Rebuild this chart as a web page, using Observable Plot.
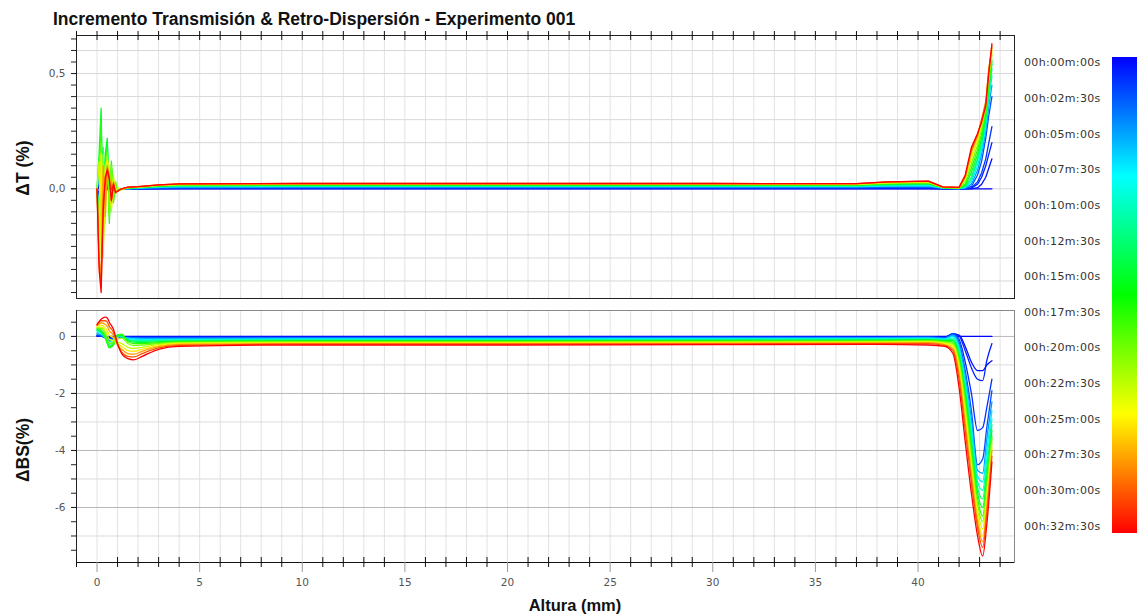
<!DOCTYPE html>
<html><head><meta charset="utf-8">
<script src="https://cdn.jsdelivr.net/npm/d3@7"></script>
<script src="https://cdn.jsdelivr.net/npm/@observablehq/plot@0.6"></script>
<style>
body{margin:0;background:#fff;font-family:"Liberation Sans",Arial,sans-serif;}
#wrap{position:relative;width:1141px;height:615px;overflow:hidden;background:#fff;}
.abs{position:absolute;white-space:nowrap;}
.title{font-weight:bold;font-size:17.5px;line-height:1.2;color:#111;}
.ylab{font-weight:bold;font-size:17.5px;color:#111;transform:translate(-50%,-50%) rotate(-90deg);line-height:1;}
.xlab{font-weight:bold;font-size:16.5px;color:#111;transform:translateX(-50%);line-height:1.15;}
.leg{font-family:"DejaVu Sans",sans-serif;font-size:11px;letter-spacing:0.35px;color:#333;transform:translateY(-50%);}
</style></head><body><div id="wrap"></div><script>
// ---------- data ----------
// legend labels
const times = ["00h:00m:00s","00h:02m:30s","00h:05m:00s","00h:07m:30s","00h:10m:00s","00h:12m:30s","00h:15m:00s","00h:17m:30s","00h:20m:00s","00h:22m:30s","00h:25m:00s","00h:27m:30s","00h:30m:00s","00h:32m:30s"];
// scan times (minutes) of the drawn profiles
const scanMinutes = [0,0.5,1,1.5,2.5,5,7.5,10,12.5,15,17.5,20,22.5,25,27.5,30,32.5];

// Transmission increment (%) : height knots (mm)
const xT = [0,0.1,0.2,0.3,0.4,0.5,0.6,0.7,0.8,0.9,1.0,1.2,1.5,2,3,4,10,20,30,37,38.5,40.5,41.2,42,42.3,42.6,42.9,43.1,43.3,43.45,43.6];
const dT = [
 [0,0,0,0,0,0,0,0,0,0,0,0,0,0,0,0, 0,0,0,0,0,0,0, 0,0,0,0,0,0,0,0],
 [0,0.01,-0.03,0.02,0.03,0.01,-0.01,0.005,0,0,0,0,0,0,0.001,0.001, 0.001,0.001,0.001,0.001,0.001,0.001,0, 0,0,0,0.005,0.02,0.05,0.09,0.13],
 [0,-0.02,0.03,-0.04,0.05,0.02,-0.02,0.01,0,0,0,0,0,0,0.001,0.002, 0.002,0.002,0.002,0.002,0.002,0.002,0.001, 0,0,0.003,0.02,0.05,0.1,0.15,0.2],
 [0,0.02,-0.05,0.03,0.06,0.02,-0.02,0.01,0,0,0,0,0,0,0.001,0.002, 0.003,0.003,0.003,0.003,0.004,0.004,0.001, 0,0,0.005,0.03,0.07,0.13,0.2,0.27],
 [0,-0.04,0.06,-0.08,0.1,0.04,-0.05,0.02,-0.01,0,0,0,0,0.001,0.003,0.004, 0.005,0.005,0.005,0.005,0.006,0.007,0.002, 0,0.002,0.01,0.06,0.12,0.22,0.32,0.4],
 [0,0.05,-0.12,0.1,-0.06,0.12,-0.03,0.04,-0.02,0,0,0,0,0.002,0.005,0.006, 0.008,0.008,0.008,0.008,0.009,0.011,0.003, 0.001,0.003,0.02,0.08,0.15,0.25,0.36,0.45],
 [0,-0.08,0.15,-0.15,0.08,0.15,-0.08,0.06,-0.03,0.01,0,0,0.001,0.003,0.007,0.009, 0.01,0.01,0.01,0.01,0.012,0.014,0.003, 0.001,0.005,0.03,0.1,0.17,0.27,0.39,0.49],
 [0,0.1,-0.2,0.18,-0.1,0.18,0.05,-0.06,0.03,-0.01,0,0,0.002,0.004,0.009,0.011, 0.012,0.012,0.012,0.012,0.015,0.017,0.004, 0.002,0.008,0.04,0.12,0.19,0.29,0.41,0.52],
 [0,-0.12,0.28,-0.18,0.12,0.2,-0.1,0.08,-0.04,0.02,-0.01,0,0.003,0.005,0.01,0.013, 0.014,0.014,0.014,0.014,0.017,0.02,0.004, 0.002,0.01,0.05,0.13,0.2,0.3,0.43,0.54],
 [0,0.15,0.35,-0.22,0.15,0.22,-0.12,0.1,-0.05,0.02,-0.01,0,0.003,0.006,0.012,0.015, 0.016,0.016,0.016,0.016,0.02,0.023,0.005, 0.003,0.015,0.07,0.15,0.22,0.32,0.44,0.55],
 [0,-0.15,0.3,-0.25,0.1,0.18,-0.15,0.12,-0.06,0.03,-0.01,0,0.004,0.006,0.013,0.016, 0.017,0.017,0.017,0.017,0.022,0.025,0.005, 0.003,0.02,0.09,0.17,0.24,0.33,0.46,0.56],
 [0,-0.2,0.2,-0.28,0.08,0.16,-0.12,0.1,-0.05,0.03,-0.01,0,0.005,0.007,0.014,0.017, 0.019,0.019,0.019,0.018,0.024,0.027,0.006, 0.004,0.03,0.11,0.19,0.26,0.35,0.48,0.58],
 [0,0.12,-0.3,0.15,-0.15,0.14,0.08,-0.1,0.06,-0.02,0.005,-0.005,0.005,0.007,0.015,0.018, 0.02,0.02,0.02,0.019,0.026,0.029,0.006, 0.004,0.04,0.13,0.21,0.28,0.37,0.5,0.59],
 [0,-0.25,0.15,-0.3,0.1,0.12,0.05,-0.08,0.04,-0.01,-0.01,0,0.006,0.008,0.016,0.019, 0.021,0.021,0.021,0.02,0.027,0.031,0.007, 0.005,0.045,0.14,0.22,0.29,0.37,0.51,0.6],
 [0,-0.3,-0.38,0.1,-0.12,0.1,0.06,-0.06,0.03,-0.02,-0.01,0,0.006,0.008,0.016,0.02, 0.022,0.022,0.022,0.021,0.029,0.032,0.007, 0.005,0.05,0.16,0.23,0.3,0.38,0.52,0.61],
 [0,-0.32,-0.42,-0.05,0.02,0.09,0.05,-0.05,0.025,-0.018,-0.01,0,0.007,0.009,0.017,0.021, 0.023,0.023,0.023,0.022,0.03,0.033,0.008, 0.006,0.055,0.17,0.235,0.3,0.37,0.52,0.62],
 [0,-0.35,-0.45,-0.1,0.05,0.08,0.04,-0.05,0.02,-0.015,-0.01,0,0.007,0.009,0.017,0.021, 0.023,0.023,0.023,0.022,0.03,0.033,0.008, 0.006,0.06,0.18,0.24,0.29,0.36,0.5,0.63]
];

// Backscattering increment (%) : height knots (mm)
const xBS = [0,0.2,0.4,0.5,0.6,0.8,1.0,1.2,1.5,1.8,2.2,3,4,10,20,30,38,40.5,41.3,41.7,42.0,42.3,42.6,42.9,43.15,43.35,43.6];
const dBS = [
 [0,0,0,0,0,0,0,0,0,0,0,0,0, 0,0,0,0,0, 0,0,0,0,0,0,0,0,0],
 [0.02,0.01,-0.02,-0.03,-0.04,-0.02,0,-0.01,-0.01,-0.02,-0.02,-0.02,-0.02, -0.02,-0.02,-0.02,-0.02,-0.01, -0.02,0.08,0.05,-0.35,-0.9,-1.2,-1.2,-1.0,-0.85],
 [0.03,0.015,-0.03,-0.05,-0.06,-0.03,0,-0.01,-0.02,-0.03,-0.03,-0.03,-0.03, -0.03,-0.03,-0.02,-0.02,-0.02, -0.03,0.1,0.02,-0.5,-1.1,-1.5,-1.55,-0.85,-0.25],
 [0.04,0.02,-0.04,-0.06,-0.08,-0.04,0,-0.015,-0.025,-0.035,-0.035,-0.035,-0.035, -0.035,-0.035,-0.03,-0.03,-0.02, -0.04,0.1,-0.1,-0.9,-2.0,-3.3,-3.2,-2.5,-1.5],
 [0.05,0.02,-0.05,-0.08,-0.1,-0.05,0,-0.02,-0.03,-0.04,-0.04,-0.04,-0.04, -0.04,-0.04,-0.03,-0.03,-0.02, -0.05,0.08,-0.2,-1.2,-2.6,-4.5,-4.3,-3.2,-1.9],
 [0.1,0.05,-0.05,-0.1,-0.15,-0.1,0,-0.02,-0.05,-0.06,-0.07,-0.07,-0.07, -0.06,-0.06,-0.05,-0.05,-0.04, -0.07,0.05,-0.3,-1.4,-2.9,-4.7,-4.8,-3.6,-2.3],
 [0.15,0.1,-0.05,-0.15,-0.2,-0.12,0.02,0,-0.07,-0.09,-0.1,-0.1,-0.1, -0.09,-0.09,-0.08,-0.07,-0.06, -0.09,0,-0.4,-1.6,-3.2,-4.9,-5.1,-4.0,-2.6],
 [0.2,0.12,-0.05,-0.2,-0.28,-0.18,0.03,0.02,-0.1,-0.13,-0.14,-0.13,-0.12, -0.11,-0.11,-0.1,-0.09,-0.08, -0.11,-0.05,-0.5,-1.75,-3.4,-5.1,-5.4,-4.3,-2.9],
 [0.22,0.15,-0.05,-0.22,-0.35,-0.22,0.05,0.03,-0.12,-0.16,-0.17,-0.16,-0.15, -0.13,-0.13,-0.12,-0.11,-0.1, -0.13,-0.1,-0.6,-1.9,-3.6,-5.3,-5.7,-4.6,-3.1],
 [0.25,0.18,-0.02,-0.25,-0.4,-0.28,0.05,0.05,-0.15,-0.2,-0.21,-0.19,-0.17, -0.15,-0.15,-0.14,-0.13,-0.12, -0.15,-0.15,-0.7,-2.05,-3.85,-5.5,-6.0,-4.9,-3.3],
 [0.28,0.22,0,-0.22,-0.38,-0.3,0,0.08,-0.18,-0.25,-0.25,-0.22,-0.19, -0.17,-0.17,-0.16,-0.15,-0.14, -0.17,-0.2,-0.8,-2.2,-4.05,-5.7,-6.3,-5.1,-3.5],
 [0.3,0.28,0.1,-0.1,-0.25,-0.2,-0.1,-0.05,-0.25,-0.32,-0.3,-0.25,-0.21, -0.19,-0.19,-0.18,-0.17,-0.16, -0.2,-0.25,-0.9,-2.4,-4.25,-5.9,-6.5,-5.3,-3.6],
 [0.32,0.33,0.2,0.05,-0.1,-0.15,-0.2,-0.25,-0.38,-0.42,-0.38,-0.29,-0.23, -0.21,-0.21,-0.2,-0.19,-0.18, -0.23,-0.3,-1.0,-2.6,-4.45,-6.1,-6.75,-5.5,-3.75],
 [0.35,0.4,0.3,0.2,0.05,-0.05,-0.25,-0.35,-0.5,-0.52,-0.45,-0.32,-0.25, -0.23,-0.23,-0.22,-0.21,-0.2, -0.26,-0.35,-1.15,-2.8,-4.65,-6.3,-7.0,-5.8,-3.9],
 [0.38,0.48,0.42,0.35,0.2,0.05,-0.3,-0.45,-0.6,-0.62,-0.52,-0.36,-0.28, -0.25,-0.25,-0.24,-0.23,-0.22, -0.29,-0.42,-1.3,-3.05,-4.85,-6.5,-7.2,-6.0,-4.0],
 [0.4,0.55,0.55,0.5,0.35,0.15,-0.3,-0.55,-0.7,-0.72,-0.6,-0.4,-0.31, -0.27,-0.27,-0.26,-0.25,-0.25, -0.32,-0.5,-1.5,-3.3,-5.1,-6.7,-7.4,-6.2,-4.2],
 [0.42,0.6,0.68,0.65,0.5,0.25,-0.25,-0.6,-0.78,-0.82,-0.7,-0.45,-0.35, -0.3,-0.3,-0.29,-0.28,-0.3, -0.35,-0.6,-1.8,-3.7,-5.5,-7.0,-7.7,-6.6,-4.4]
];

const xTickLabels = [0,5,10,15,20,25,30,35,40];
const tTickLabels = [0, 0.5];
const bsTickLabels = [0,-2,-4,-6];
const title = "Incremento Transmisión & Retro-Dispersión - Experimento 001";
const yTitleT = "ΔT (%)";
const yTitleBS = "ΔBS(%)";
const xTitle = "Altura (mm)";

// ---------- build ----------
const wrap = document.getElementById("wrap");
const rainbow = t => d3.hsl(240 * (1 - t), 1, 0.5).toString();
const colorOpt = {type: "linear", domain: [0, 32.5], interpolate: rainbow};
const rowsT = dT.flatMap((vals, i) => vals.map((v, j) => ({x: xT[j], y: v, t: scanMinutes[i]})));
const rowsBS = dBS.flatMap((vals, i) => vals.map((v, j) => ({x: xBS[j], y: v, t: scanMinutes[i]})));

const xDomain = [-1, 44.7];
const xMinor = d3.range(-1, 45);
const xMinorUnlabeled = xMinor.filter(d => !xTickLabels.includes(d));
const font = {fontFamily: "'DejaVu Sans', sans-serif", fontSize: "10.5px", color: "#555", background: "transparent", overflow: "visible"};

// top panel
const hT = 275, mtT = 5, mbT = 7, fhT = hT - mtT - mbT;
const tGrid = d3.range(-4, 7).map(i => i / 10);
const tMinor = d3.range(-9, 14).map(i => i * 0.05);
const plotT = Plot.plot({
  width: 1020, height: hT, marginLeft: 76, marginRight: 6, marginTop: mtT, marginBottom: mbT,
  x: {domain: xDomain}, y: {domain: [-0.476, 0.665]}, color: colorOpt, style: font,
  marks: [
    Plot.gridX(xMinor, {stroke: "#e2e2e2", strokeOpacity: 1}),
    Plot.gridY(tGrid, {stroke: "#d8d8d8", strokeOpacity: 1}),
    Plot.line(rowsT, {x: "x", y: "y", z: "t", stroke: "t", strokeWidth: 1.3}),
    Plot.frame({stroke: "#222"}),
    Plot.axisX(xMinor, {anchor: "top", tickSize: 5, tickFormat: () => "", label: null, stroke: "#111"}),
    Plot.tickX(xMinor, {x: d => d, insetBottom: fhT - 5, stroke: "#111"}),
    Plot.axisY(tMinor, {tickSize: 5, tickFormat: () => "", label: null, stroke: "#222"}),
    Plot.axisY(tTickLabels, {tickSize: 5, tickPadding: 6, tickFormat: d => d.toFixed(1).replace(".", ","), label: null, stroke: "#222", fill: "#555"})
  ]
});

// bottom panel
const hB = 315, mtB = 10, mbB = 53, fhB = hB - mtB - mbB;
const bsGrid = d3.range(-7, 1);
const bsMinor = d3.range(-15, 2).map(i => i * 0.5);
const plotB = Plot.plot({
  width: 1020, height: hB, marginLeft: 76, marginRight: 6, marginTop: mtB, marginBottom: mbB,
  x: {domain: xDomain}, y: {domain: [-7.93, 0.91]}, color: colorOpt, style: font,
  marks: [
    Plot.gridX(xMinor, {stroke: "#e2e2e2", strokeOpacity: 1}),
    Plot.gridY(bsGrid, {stroke: d => d % 2 === 0 ? "#b8b8b8" : "#dcdcdc", strokeOpacity: 1}),
    Plot.line(rowsBS, {x: "x", y: "y", z: "t", stroke: "t", strokeWidth: 1.3, curve: "monotone-x"}),
    Plot.frame({stroke: "#888"}),
    Plot.ruleY([-7.93], {stroke: "#111"}),
    Plot.ruleX([-1], {stroke: "#222"}),
    Plot.axisX(xMinorUnlabeled, {tickSize: 5, tickFormat: () => "", label: null, stroke: "#111"}),
    Plot.tickX(xMinorUnlabeled, {x: d => d, insetTop: fhB - 5, stroke: "#111"}),
    Plot.axisX(xTickLabels, {tickSize: 10, tickPadding: 6, tickFormat: d => String(d), label: null, stroke: "#999", fill: "#555"}),
    Plot.axisY(bsMinor, {tickSize: 5, tickFormat: () => "", label: null, stroke: "#222"}),
    Plot.axisY(bsTickLabels, {tickSize: 5, tickPadding: 6, tickFormat: d => String(d), label: null, stroke: "#222", fill: "#555"})
  ]
});

function place(el, left, top) { el.style.position = "absolute"; el.style.left = left + "px"; el.style.top = top + "px"; wrap.appendChild(el); }
place(plotT, 0, 30);
place(plotB, 0, 300);

function addText(cls, text, left, top) {
  const d = document.createElement("div");
  d.className = "abs " + cls; d.textContent = text;
  d.style.left = left + "px"; d.style.top = top + "px";
  wrap.appendChild(d); return d;
}
addText("title", title, 53, 9);
addText("ylab", yTitleT, 24, 168);
addText("ylab", yTitleBS, 24, 450);
addText("xlab", xTitle, 575, 596);

// legend: labels + color bar
const legTop = 62.3, legStep = 35.64;
times.forEach((t, i) => addText("leg", t, 1024, legTop + i * legStep));
const bar = document.createElement("div");
bar.className = "abs";
const stops = d3.range(0, 1.0001, 0.05).map(t => `${rainbow(t)} ${(t * 100).toFixed(1)}%`).join(",");
Object.assign(bar.style, {left: "1112px", top: "57px", width: "25px", height: "476px", background: `linear-gradient(to bottom, ${stops})`});
wrap.appendChild(bar);
</script></body></html>
